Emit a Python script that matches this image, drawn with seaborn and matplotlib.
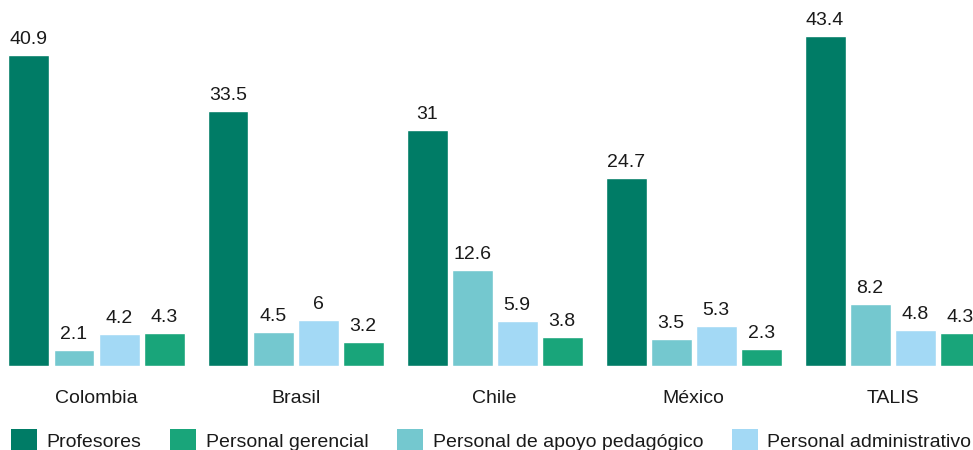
import matplotlib
matplotlib.use("Agg")
import matplotlib.pyplot as plt
from matplotlib.patches import Patch
import pandas as pd
import seaborn as sns

paises = ["Colombia", "Brasil", "Chile", "México", "TALIS"]
profesores = [40.9, 33.5, 31, 24.7, 43.4]
apoyo_pedagogico = [2.1, 4.5, 12.6, 3.5, 8.2]
administrativo = [4.2, 6, 5.9, 5.3, 4.8]
gerencial = [4.3, 3.2, 3.8, 2.3, 4.3]

series = {
    "Profesores": profesores,
    "Personal de apoyo pedagógico": apoyo_pedagogico,
    "Personal administrativo": administrativo,
    "Personal gerencial": gerencial,
}
colores = {
    "Profesores": "#007c66",
    "Personal gerencial": "#19a57a",
    "Personal de apoyo pedagógico": "#74c8cf",
    "Personal administrativo": "#a3d9f5",
}
orden_barras = list(series.keys())
orden_leyenda = ["Profesores", "Personal gerencial",
                 "Personal de apoyo pedagógico", "Personal administrativo"]

df = pd.DataFrame(
    [(p, s, v) for s, vals in series.items() for p, v in zip(paises, vals)],
    columns=["pais", "serie", "valor"],
)

sns.set_theme(style="white")
plt.rcParams["font.family"] = ["Liberation Sans", "DejaVu Sans"]

fig = plt.figure(figsize=(9.73, 4.5), dpi=100)
ax = fig.add_axes([0.0, 1 - 366 / 450, 1.0, 366 / 450])

sns.barplot(data=df, x="pais", y="valor", hue="serie", hue_order=orden_barras,
            order=paises, palette=colores, width=0.905, gap=0.09,
            saturation=1, errorbar=None, ax=ax, legend=False)

for cont in ax.containers:
    ax.bar_label(cont, fmt="{:g}", padding=5, fontsize=14, color="#1a1a1a")

ax.set_xlim(-0.485, 4.404)
ax.set_ylim(0, 48.16)
ax.set_xlabel("")
ax.set_ylabel("")
ax.set_yticks([])
ax.tick_params(axis="x", length=0, pad=17.5, labelsize=14, labelcolor="#1a1a1a")
sns.despine(ax=ax, left=True, bottom=True)

handles = [Patch(facecolor=colores[s], edgecolor="none") for s in orden_leyenda]
fig.legend(handles, orden_leyenda, loc="lower left", ncol=4,
           bbox_to_anchor=(11 / 973, -1 / 450), frameon=False, fontsize=14,
           handlelength=1.34, handleheight=1.34, handletextpad=0.5,
           columnspacing=1.46, borderpad=0, borderaxespad=0,
           labelcolor="#1a1a1a")

fig.savefig("out.png", dpi=100)
